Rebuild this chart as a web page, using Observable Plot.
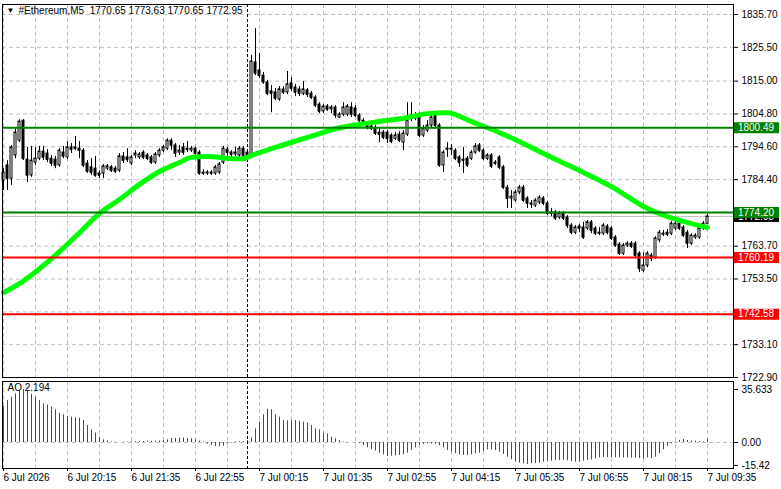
<!DOCTYPE html>
<html><head><meta charset="utf-8">
<script src="https://cdn.jsdelivr.net/npm/d3@7"></script>
<script src="https://cdn.jsdelivr.net/npm/@observablehq/plot@0.6"></script>
<style>
body{margin:0;background:#fff;}
#chart{position:relative;width:781px;height:489px;overflow:hidden;background:#fff;}
#chart svg{position:absolute;left:0;}
</style></head><body><div id="chart"></div>
<script>
const title = "#Ethereum,M5  1770.65 1773.63 1770.65 1772.95";
const aoLabel = "AO 2.194";
const opens = [
1784.1,1788.8,1784.7,1791.9,1796.5,1802.7,1790.6,1785.7,1789.7,1790.9,
1793.1,1792.5,1790.9,1790.6,1788.8,1792.8,1791.3,1794.4,1794.4,1794.0,
1793.4,1789.4,1788.2,1787.8,1786.3,1786.3,1787.8,1788.2,1787.8,1787.2,
1791.6,1791.3,1789.4,1791.9,1791.3,1792.8,1791.9,1791.3,1789.7,1791.9,
1793.4,1794.0,1796.5,1795.0,1792.8,1794.4,1794.0,1793.4,1794.0,1792.8,
1786.6,1786.3,1786.6,1786.3,1786.6,1789.7,1793.7,1792.8,1792.2,1791.9,
1794.0,1792.8,1791.6,1820.8,1818.3,1816.7,1814.6,1811.8,1811.5,1809.3,
1812.4,1811.5,1814.3,1813.0,1812.4,1811.1,1812.1,1811.1,1809.9,1807.7,
1805.6,1807.1,1806.2,1806.8,1803.7,1804.6,1804.6,1806.8,1806.5,1804.3,
1802.7,1801.5,1800.9,1800.5,1799.0,1799.0,1799.0,1798.1,1797.1,1798.4,
1795.9,1798.4,1804.3,1803.4,1804.3,1798.1,1799.6,1801.2,1804.3,1801.2,
1788.8,1793.7,1793.7,1793.4,1791.3,1790.6,1790.9,1790.9,1792.8,1795.0,
1793.4,1790.9,1791.9,1789.7,1791.3,1788.2,1781.9,1778.5,1777.9,1780.4,
1781.9,1778.5,1776.6,1776.3,1777.3,1778.5,1777.0,1774.2,1774.2,1772.6,
1773.9,1772.6,1770.1,1767.9,1769.8,1769.5,1769.2,1771.1,1769.2,1767.6,
1767.6,1769.8,1769.2,1766.4,1764.2,1761.4,1763.9,1764.5,1764.5,1761.4,
1756.1,1757.7,1760.8,1760.1,1765.5,1767.3,1767.9,1767.6,1769.2,1770.7,
1769.5,1767.9,1764.5,1766.4,1766.4,1769.2,1770.65];
const highs = [
1787.8,1790.3,1795.0,1800.2,1803.0,1803.0,1794.4,1794.7,1794.4,1794.7,
1794.7,1793.7,1791.9,1791.6,1794.0,1794.7,1796.2,1795.6,1797.8,1796.2,
1794.0,1790.3,1790.9,1791.6,1787.2,1789.1,1789.1,1788.8,1788.5,1792.5,
1792.8,1794.0,1791.9,1793.4,1792.8,1793.4,1792.5,1791.9,1792.8,1794.0,
1795.0,1797.1,1797.1,1795.6,1795.0,1795.6,1796.2,1794.7,1794.4,1793.4,
1787.5,1787.2,1787.2,1788.8,1789.7,1794.7,1794.4,1793.4,1794.4,1794.7,
1794.7,1793.4,1823.0,1831.3,1823.6,1817.7,1815.2,1813.6,1812.7,1813.3,
1813.3,1818.0,1816.1,1814.0,1813.3,1814.9,1812.7,1811.8,1810.5,1808.3,
1807.7,1807.7,1807.4,1807.4,1805.2,1808.3,1807.7,1808.3,1807.4,1804.9,
1803.4,1802.1,1801.5,1801.2,1800.2,1799.6,1799.6,1798.7,1799.0,1799.3,
1799.6,1808.3,1808.3,1805.2,1805.2,1801.2,1802.7,1804.9,1804.9,1801.8,
1793.4,1795.9,1795.3,1794.0,1791.9,1794.4,1791.6,1793.4,1795.6,1795.6,
1794.0,1792.5,1792.5,1790.3,1791.9,1788.8,1782.6,1781.0,1781.0,1782.6,
1782.6,1779.1,1777.9,1778.5,1779.4,1779.1,1777.6,1775.4,1774.8,1774.5,
1774.5,1773.2,1770.7,1770.1,1770.4,1771.1,1771.7,1771.7,1769.8,1769.5,
1770.7,1770.4,1769.8,1767.0,1764.8,1764.5,1765.1,1765.1,1765.1,1762.0,
1761.7,1762.0,1761.4,1766.7,1768.6,1768.6,1768.9,1771.4,1771.4,1772.0,
1770.1,1768.6,1767.6,1767.6,1769.8,1771.4,1773.63];
const lows = [
1781.0,1781.0,1782.6,1790.9,1795.9,1790.3,1783.5,1785.1,1788.8,1790.3,
1790.3,1789.7,1788.5,1787.8,1788.2,1790.9,1790.6,1792.5,1793.4,1790.9,
1788.2,1786.3,1785.7,1785.1,1784.7,1784.7,1787.2,1786.6,1786.3,1786.6,
1789.4,1789.7,1788.8,1790.9,1790.6,1790.6,1790.3,1789.1,1789.1,1791.3,
1792.8,1793.4,1793.4,1791.3,1791.9,1791.9,1792.8,1792.8,1791.6,1785.7,
1785.7,1785.7,1785.7,1785.7,1786.0,1789.1,1791.6,1791.3,1791.6,1791.3,
1791.3,1790.9,1790.9,1816.7,1815.8,1814.0,1810.5,1805.2,1809.0,1808.7,
1810.8,1810.8,1811.8,1810.2,1810.2,1810.5,1809.9,1809.3,1806.8,1804.9,
1804.9,1805.6,1804.9,1803.4,1803.4,1804.0,1804.0,1803.7,1803.7,1801.8,
1800.9,1799.9,1799.6,1798.1,1795.9,1796.8,1795.6,1795.6,1796.5,1795.9,
1793.4,1797.8,1802.4,1802.7,1797.5,1797.5,1799.0,1800.5,1800.5,1788.2,
1786.6,1791.3,1791.9,1790.3,1788.2,1786.3,1788.2,1790.3,1792.2,1792.8,
1790.3,1790.3,1787.8,1788.8,1787.5,1781.3,1775.4,1775.4,1777.3,1779.7,
1777.3,1775.4,1775.4,1775.7,1776.6,1776.3,1773.2,1772.9,1771.7,1772.0,
1771.7,1769.2,1767.3,1767.3,1767.9,1765.8,1768.6,1767.6,1767.0,1767.0,
1767.0,1767.3,1765.5,1763.3,1760.8,1760.8,1763.3,1763.0,1760.1,1755.5,
1755.5,1757.0,1758.9,1759.6,1764.8,1766.7,1766.7,1767.0,1768.6,1768.6,
1766.4,1763.0,1763.9,1765.8,1765.8,1768.6,1770.65];
const closes = [
1786.6,1784.7,1794.4,1799.0,1802.4,1790.9,1785.7,1790.3,1790.9,1793.1,
1791.3,1790.6,1789.4,1788.8,1793.4,1791.6,1794.4,1793.7,1794.0,1793.4,
1788.8,1786.9,1786.6,1785.7,1785.7,1788.5,1788.5,1787.2,1786.9,1791.6,
1790.3,1790.6,1791.3,1792.5,1792.2,1791.3,1790.9,1789.7,1792.2,1793.4,
1794.4,1796.5,1795.0,1792.5,1793.4,1792.8,1793.7,1794.0,1792.5,1786.3,
1786.3,1786.6,1786.3,1788.2,1789.1,1794.0,1792.8,1792.2,1792.8,1794.0,
1791.9,1791.6,1821.1,1817.4,1816.7,1814.6,1811.1,1811.1,1809.6,1812.4,
1811.5,1814.0,1812.7,1811.5,1811.1,1812.4,1810.8,1809.9,1807.4,1805.6,
1807.1,1806.2,1806.8,1804.3,1804.6,1806.8,1807.1,1804.6,1804.3,1802.7,
1801.5,1800.5,1800.2,1798.7,1798.4,1797.5,1797.1,1796.2,1798.1,1796.5,
1798.7,1802.7,1803.4,1804.3,1798.1,1800.2,1801.2,1803.7,1801.2,1788.8,
1792.8,1794.0,1794.0,1790.9,1789.7,1790.3,1788.8,1792.8,1794.7,1793.4,
1790.9,1791.9,1788.5,1789.4,1788.2,1781.9,1778.5,1779.1,1780.4,1781.9,
1777.9,1777.0,1777.0,1777.9,1778.8,1777.0,1773.9,1773.9,1772.3,1773.9,
1772.3,1770.1,1767.9,1769.5,1769.2,1766.4,1771.1,1768.6,1767.6,1767.9,
1770.1,1767.9,1766.1,1763.9,1761.4,1763.9,1764.5,1763.6,1760.8,1756.7,
1757.7,1761.4,1759.9,1766.1,1767.9,1767.6,1767.3,1770.7,1770.7,1769.2,
1767.0,1764.5,1767.0,1767.0,1769.2,1770.7,1772.95];

const maBars = [0,4,9,14,19,24,29,34,39,44,47,51,54,57,60,62,67,76,84,92,101,106,111,117,124,128,136,144,152,161,169,172,176];
const maValues = [1749.3,1752.1,1756.7,1762.0,1767.9,1773.9,1778.2,1782.9,1786.9,1789.7,1791.3,1791.6,1791.3,1790.9,1790.9,1791.9,1794.0,1797.5,1800.5,1802.1,1803.7,1804.9,1805.2,1802.4,1799.0,1796.8,1791.9,1787.2,1782.2,1775.4,1771.7,1770.7,1769.5];

const aoValues = [
24.2,28.2,30.5,32.7,34.5,35.633,34.5,32.3,30.5,28.2,
26.0,25.3,23.8,22.0,19.7,18.6,17.5,17.0,16.6,16.4,
14.8,11.4,8.5,6.3,3.6,1.8,1.1,0.4,0.2,0.1,
0.2,0.3,0.4,0.5,0.7,0.6,0.9,0.8,0.9,1.0,
1.3,1.8,2.7,2.8,2.9,3.0,2.7,2.5,1.8,0.9,
0.4,-1.1,-2.0,-2.7,-2.9,-2.5,-0.9,-0.4,0.4,0.6,
0.7,1.3,3.1,9.2,13.7,18.6,22.4,22.0,18.6,17.0,
14.8,14.6,14.7,14.8,14.3,13.7,13.0,11.4,9.2,8.5,
6.3,5.8,3.6,2.5,1.3,0.4,0.2,0.1,-0.2,-0.9,
-2.0,-3.6,-4.9,-5.8,-7.2,-8.3,-9.4,-9.2,-9.0,-8.7,
-8.1,-7.2,-5.4,-3.6,-2.0,-1.3,-0.9,-1.0,-1.3,-2.2,
-3.6,-5.4,-6.5,-7.6,-8.3,-8.7,-8.8,-8.3,-7.6,-7.2,
-6.1,-4.9,-5.0,-5.4,-6.5,-8.1,-9.9,-11.7,-13.2,-13.9,
-14.3,-14.8,-14.3,-14.2,-13.9,-13.2,-12.6,-12.5,-12.1,-12.0,
-11.9,-12.3,-12.9,-13.2,-13.3,-12.6,-12.1,-11.7,-11.0,-10.3,
-10.2,-10.1,-10.2,-10.3,-10.3,-10.4,-10.4,-10.5,-10.6,-10.8,
-10.9,-10.4,-10.8,-9.9,-7.6,-4.9,-2.7,-0.9,0.4,1.3,
2.0,1.3,1.1,0.9,0.6,0.4,2.194];
const aoColors = ("ggggggrrrr"+"rrrrrrrrrr"+"rrrrrrrrrr"+"gggggrgrgg"+"ggggggrrrr"+"rrrrrggggg"+"gggggggrrr"+"rrggrrrrrr"+"rrrrrrrrrr"+
  "rrrrrrrggg"+"gggggggrrr"+"rrrrrrrggg"+"ggrrrrrrrr"+"rrgggggggg"+"grrrrggggg"+"ggrrrrrrrr"+"rgrggggggg"+"grrrrrg").split("");

const priceGridTicks = [1835.70,1825.50,1815.00,1804.80,1794.60,1784.40,1774.20,1763.70,1753.50,1743.30,1733.10,1722.90];
const priceLabelTicks = [1835.70,1825.50,1815.00,1804.80,1794.60,1784.40,1763.70,1753.50,1733.10,1722.90];
const greenLevels = [1800.49, 1774.20];
const redLevels = [1760.19, 1742.58];
const lastClose = 1772.95;
const aoTicks = [35.633, 0, -15.42];
const aoTickLabels = ["35.633", "0.00", "-15.42"];
const labelBars = [0,16,32,48,64,80,96,112,128,144,160,176];
const timeLabels = ["6 Jul 2026","6 Jul 20:15","6 Jul 21:35","6 Jul 22:55","7 Jul 00:15","7 Jul 01:35","7 Jul 02:55","7 Jul 04:15","7 Jul 05:35","7 Jul 06:55","7 Jul 08:15","7 Jul 09:35"];
const gridBars = [0,8,16,24,32,40,48,56,64,72,80,88,96,104,112,120,128,136,144,152,160,168,176];
const separatorBar = 61;

const candles = opens.map((o, i) => ({i, open: o, high: highs[i], low: lows[i], close: closes[i]}));
const ma = maBars.map((b, k) => ({i: b, v: maValues[k]}));
const ao = aoValues.map((v, i) => ({i, v, c: aoColors[i] === "g" ? "#008000" : "#ff0000"}));
const levels = [
  ...greenLevels.map(v => ({v, c: "#008000"})),
  ...redLevels.map(v => ({v, c: "#ff0000"}))
];

const font = "'Liberation Sans', Arial, sans-serif";
const grid = {stroke: "#c0c0c0", strokeOpacity: 1, strokeDasharray: "4,3"};
const xDomain = [-0.25, 182.5];

const main = Plot.plot({
  width: 781, height: 489,
  marginLeft: 2, marginRight: 48, marginTop: 4, marginBottom: 112,
  x: {domain: xDomain, axis: null},
  y: {domain: [1722.9, 1838.81], axis: null},
  style: {fontFamily: font, fontSize: "10px", background: "white", color: "black"},
  marks: [
    Plot.gridY(priceGridTicks, grid),
    Plot.gridX(gridBars, grid),
    Plot.ruleY([lastClose], {stroke: "#c0c0c0"}),
    Plot.ruleX([separatorBar], {stroke: "black", strokeDasharray: "3,2"}),
    Plot.ruleX(candles, {x: "i", y1: "low", y2: "high", stroke: "black"}),
    Plot.rect(candles, {x1: d => d.i - 0.25, x2: d => d.i + 0.25, y1: "open", y2: "close",
      fill: d => d.close > d.open ? "white" : "black", stroke: "black"}),
    Plot.ruleY(candles, {y: "close", x1: d => d.i - 0.25, x2: d => d.i + 0.25, stroke: "black"}),
    Plot.line(ma, {x: "i", y: "v", stroke: "#00ff00", strokeWidth: 5, curve: "monotone-x"}),
    Plot.ruleY(levels, {y: "v", stroke: "c", strokeWidth: 2}),
    Plot.frame({stroke: "black"}),
    Plot.axisY(priceLabelTicks, {anchor: "right", tickSize: 4, tickPadding: 4, tickFormat: d => d.toFixed(2), label: null}),
    Plot.ruleY([lastClose], {x1: 182.75, x2: 194, stroke: "black", strokeWidth: 11}),
    Plot.text([lastClose], {x: 183.6, y: d => d, text: d => d.toFixed(2), fill: "white", textAnchor: "start"}),
    Plot.ruleY(levels, {y: "v", x1: 182.75, x2: 194, stroke: "c", strokeWidth: 11}),
    Plot.text(levels, {x: 183.6, y: "v", text: d => d.v.toFixed(2), fill: "white", textAnchor: "start"}),
    Plot.text(["\u25BC"], {frameAnchor: "top-left", dx: 4, dy: 3, fontSize: 8, textAnchor: "start", lineAnchor: "top"}),
    Plot.text([title], {frameAnchor: "top-left", dx: 16, dy: 2, textAnchor: "start", lineAnchor: "top"})
  ]
});

const aoPlot = Plot.plot({
  width: 781, height: 111,
  marginLeft: 2, marginRight: 48, marginTop: 3, marginBottom: 21,
  x: {domain: xDomain},
  y: {domain: [-17.48, 41.02], axis: null},
  style: {fontFamily: font, fontSize: "10px", background: "transparent", color: "black"},
  marks: [
    Plot.gridX(gridBars, grid),
    Plot.gridY([0], grid),
    Plot.ruleX(ao, {x: "i", y1: 0, y2: "v", stroke: "c"}),
    Plot.ruleX([separatorBar], {stroke: "black", strokeDasharray: "3,2"}),
    Plot.frame({stroke: "black"}),
    Plot.axisY(aoTicks, {anchor: "right", tickSize: 4, tickPadding: 4, label: null,
      tickFormat: d => aoTickLabels[aoTicks.indexOf(d)]}),
    Plot.axisX(labelBars, {anchor: "bottom", tickSize: 3, tickPadding: 2, textAnchor: "start", label: null,
      tickFormat: d => timeLabels[labelBars.indexOf(d)]}),
    Plot.text([aoLabel], {frameAnchor: "top-left", dx: 5, dy: 2, textAnchor: "start", lineAnchor: "top"})
  ]
});

const root = document.getElementById("chart");
main.style.top = "0px";
aoPlot.style.top = "378px";
root.appendChild(main);
root.appendChild(aoPlot);
</script>
</body></html>
